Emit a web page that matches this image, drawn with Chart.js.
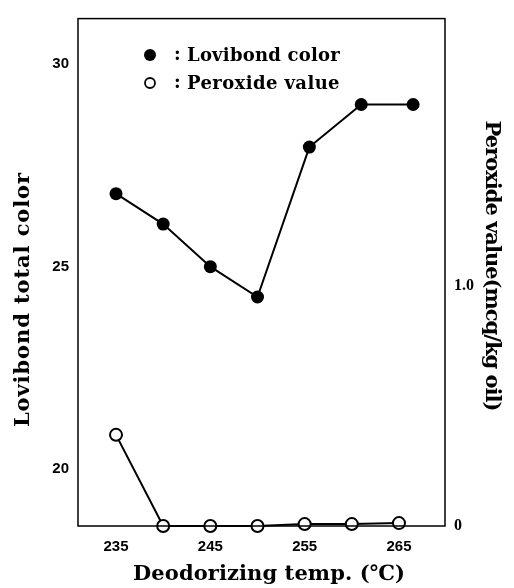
<!DOCTYPE html>
<html>
<head>
<meta charset="utf-8">
<script src="https://cdn.jsdelivr.net/npm/chart.js@4/dist/chart.umd.min.js"></script>
<style>
html,body{margin:0;padding:0;background:#fff;}
#wrap{width:514px;height:588px;}
</style>
</head>
<body>
<div id="wrap"><canvas id="c" width="514" height="588"></canvas></div>
<script>
// Data
const lovTemps = [235, 240, 245, 250, 255.5, 261, 266.5];
const lovibond = [26.8, 26.05, 25.0, 24.25, 27.95, 29.0, 29.0];
const pvTemps = [235, 240, 245, 250, 255, 260, 265];
const peroxide = [0.38, 0, 0, 0, 0.008, 0.008, 0.012];
const xTicks = [235, 245, 255, 265];
const leftTicks = [20, 25, 30];
const rightTicks = [0, 1.0];
const seriesNames = ['Lovibond color', 'Peroxide value'];
const titles = {x: 'Deodorizing temp. (\u2103)', y: 'Lovibond total color', y1: 'Peroxide value(mcq/kg oil)'};

const serif = '"DejaVu Serif", "Liberation Serif", serif';
const sans = '"Liberation Sans", Arial, sans-serif';

// draw text stretched to a target width through letter spacing
function fitText(ctx, text, x, y, width, align) {
  ctx.letterSpacing = '0px';
  const w0 = ctx.measureText(text).width;
  const ls = (width - w0) / text.length;
  ctx.letterSpacing = ls.toFixed(2) + 'px';
  const w = ctx.measureText(text).width;
  const sx = align === 'center' ? x - w / 2 + ls / 2 : x;
  ctx.textAlign = 'left';
  ctx.fillText(text, sx, y);
  ctx.letterSpacing = '0px';
}

const decor = {
  id: 'decor',
  afterDraw(chart) {
    const ctx = chart.ctx, a = chart.chartArea;
    ctx.save();
    ctx.strokeStyle = '#000';
    ctx.lineWidth = 1.5;
    ctx.strokeRect(a.left, a.top, a.right - a.left, a.bottom - a.top);
    ctx.fillStyle = '#000';
    ctx.textBaseline = 'middle';
    // axis titles
    ctx.font = 'bold 21px ' + serif;
    fitText(ctx, titles.x, 269, 575, 272, 'center');
    ctx.save();
    ctx.translate(24, 300);
    ctx.rotate(-Math.PI / 2);
    fitText(ctx, titles.y, 0, 0, 255, 'center');
    ctx.restore();
    ctx.save();
    ctx.translate(491, 266);
    ctx.rotate(Math.PI / 2);
    fitText(ctx, titles.y1, 0, 0, 290, 'center');
    ctx.restore();
    // legend
    ctx.font = 'bold 18px ' + serif;
    const items = [{y: 55, fill: true}, {y: 83, fill: false}];
    items.forEach((it, i) => {
      ctx.beginPath();
      ctx.arc(150, it.y, it.fill ? 6 : 5, 0, Math.PI * 2);
      if (it.fill) { ctx.fill(); } else { ctx.lineWidth = 1.8; ctx.stroke(); }
      ctx.textAlign = 'left';
      ctx.fillText(':', 174, it.y);
      fitText(ctx, seriesNames[i], 187, it.y + 1, 153, 'left');
    });
    ctx.restore();
  }
};

new Chart(document.getElementById('c'), {
  type: 'line',
  data: {
    datasets: [
      {
        label: seriesNames[0],
        data: lovTemps.map((t, i) => ({x: t, y: lovibond[i]})),
        yAxisID: 'y',
        borderColor: '#000',
        backgroundColor: '#000',
        borderWidth: 2,
        pointRadius: 6.5,
        pointBorderWidth: 0,
        pointBackgroundColor: '#000',
        tension: 0
      },
      {
        label: seriesNames[1],
        data: pvTemps.map((t, i) => ({x: t, y: peroxide[i]})),
        yAxisID: 'y1',
        borderColor: '#000',
        backgroundColor: '#fff',
        borderWidth: 2,
        pointRadius: 6,
        pointBorderWidth: 2,
        pointBackgroundColor: '#fff',
        pointBorderColor: '#000',
        tension: 0,
        clip: false
      }
    ]
  },
  options: {
    responsive: false,
    animation: false,
    devicePixelRatio: 1,
    layout: {padding: {top: 13, left: 0, right: 0, bottom: 0}},
    plugins: {legend: {display: false}, tooltip: {enabled: false}},
    scales: {
      x: {
        type: 'linear',
        min: 230.97,
        max: 269.88,
        afterBuildTicks: s => { s.ticks = xTicks.map(v => ({value: v})); },
        afterFit: s => { s.height = 62; },
        grid: {display: false, drawTicks: false, tickLength: 0},
        border: {display: false},
        ticks: {color: '#000', font: {family: sans, size: 15, weight: 'bold'}, padding: 12, maxRotation: 0}
      },
      y: {
        position: 'left',
        min: 18.6,
        max: 31.12,
        afterBuildTicks: s => { s.ticks = leftTicks.map(v => ({value: v})); },
        afterFit: s => { s.width = 78; },
        grid: {display: false, drawTicks: false, tickLength: 0},
        border: {display: false},
        ticks: {color: '#000', font: {family: sans, size: 15, weight: 'bold'}, padding: 9}
      },
      y1: {
        position: 'right',
        min: 0,
        max: 2.115,
        afterBuildTicks: s => { s.ticks = rightTicks.map(v => ({value: v})); },
        afterFit: s => { s.width = 69; },
        grid: {display: false, drawTicks: false, tickLength: 0},
        border: {display: false},
        ticks: {color: '#000', font: {family: '"Liberation Serif", serif', size: 16, weight: 'bold'}, padding: 9,
          callback: v => (v === 0 ? '0' : v.toFixed(1))}
      }
    }
  },
  plugins: [decor]
});
</script>
</body>
</html>
